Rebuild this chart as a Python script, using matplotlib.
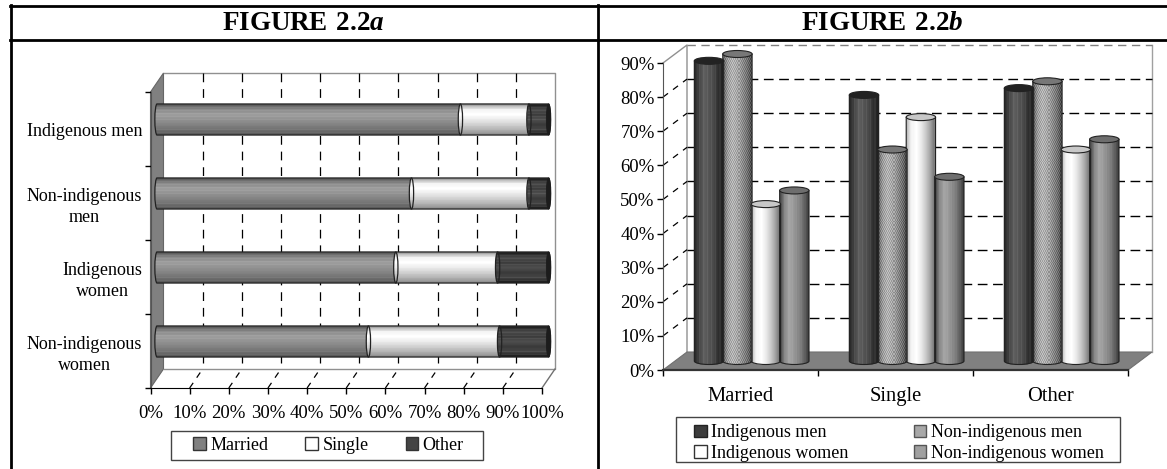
import matplotlib
matplotlib.use('Agg')
import matplotlib.pyplot as plt
from matplotlib.patches import PathPatch, Polygon, Patch, Ellipse, Rectangle
from matplotlib.path import Path
from matplotlib.lines import Line2D
import numpy as np

plt.rcParams['font.family'] = ['Liberation Serif', 'DejaVu Serif']
plt.rcParams['mathtext.fontset'] = 'custom'
plt.rcParams['mathtext.bf'] = 'Liberation Serif:bold'
plt.rcParams['mathtext.bfit'] = 'Liberation Serif:bold:italic'

W = 1167
H = 469

# figure a
groups_a = ['Indigenous men', 'Non-indigenous\nmen', 'Indigenous\nwomen', 'Non-indigenous\nwomen']
married = [77.5, 65, 61, 54]
single = [17.5, 30, 26, 33.5]
other = [5, 5, 13, 12.5]
ticks_a = [0, 10, 20, 30, 40, 50, 60, 70, 80, 90, 100]

# figure b
cats_b = ['Married', 'Single', 'Other']
ind_men = [88, 78, 80]
non_ind_men = [90, 62, 82]
ind_women = [46, 71.5, 62]
non_ind_women = [50, 54, 65]
ticks_b = [0, 10, 20, 30, 40, 50, 60, 70, 80, 90]

fig = plt.figure(figsize=(W / 100, H / 100), dpi=100)


def px_axes(x0, y0, x1, y1):
    return fig.add_axes([x0 / W, 1 - y1 / H, (x1 - x0) / W, (y1 - y0) / H])


def frame_line(x0, y0, x1, y1, lw=2.0):
    fig.add_artist(Line2D([x0 / W, x1 / W], [1 - y0 / H, 1 - y1 / H], color='black', lw=lw))


def legend_box(x0, y0, x1, y1):
    fig.add_artist(Rectangle((x0 / W, 1 - y1 / H), (x1 - x0) / W, (y1 - y0) / H, fc='white', ec='#444444',
                             lw=1.0, transform=fig.transFigure, zorder=3))


def shade(stops, n=40, stripes=0.0):
    pos = np.linspace(0, 1, len(stops))
    t = np.linspace(0, 1, n)
    vals = np.interp(t, pos, stops)
    if stripes:
        vals = vals + stripes * np.where(np.arange(n) % 4 == 0, 1, -0.4)
    return np.clip(vals, 0, 1)


# clip a gradient mesh to the cylinder outline, it has to stick out of the axes box
def paint(ax, xs, ys, img, outline, z=4):
    mesh = ax.pcolormesh(xs, ys, img, cmap='gray', vmin=0, vmax=1, zorder=z, shading='flat')
    mesh.set_clip_path(outline)
    mesh.set_clip_box(None)


def cyl_h(ax, left, width, yc, hh, rx, stops, stripes=0.0, end_face=False):
    right = left + width
    k = 0.5523
    verts = [(left, yc - hh), (right, yc - hh),
             (right + k * rx, yc - hh), (right + rx, yc - k * hh), (right + rx, yc),
             (right + rx, yc + k * hh), (right + k * rx, yc + hh), (right, yc + hh),
             (left, yc + hh),
             (left - k * rx, yc + hh), (left - rx, yc + k * hh), (left - rx, yc),
             (left - rx, yc - k * hh), (left - k * rx, yc - hh), (left, yc - hh),
             (left, yc - hh)]
    codes = [Path.MOVETO, Path.LINETO, Path.CURVE4, Path.CURVE4, Path.CURVE4, Path.CURVE4, Path.CURVE4,
             Path.CURVE4, Path.LINETO, Path.CURVE4, Path.CURVE4, Path.CURVE4, Path.CURVE4, Path.CURVE4,
             Path.CURVE4, Path.CLOSEPOLY]
    outline = PathPatch(Path(verts, codes), fc='none', ec='#222222', lw=0.9, zorder=5, clip_on=False)
    ax.add_patch(outline)
    img = shade(stops, stripes=stripes).reshape(-1, 1)
    paint(ax, [left - rx, right + rx], np.linspace(yc - hh, yc + hh, img.shape[0] + 1), img, outline)
    if end_face:
        ax.add_patch(Ellipse((right, yc), 2 * rx, 2 * hh, fc='#1c1c1c', ec='#1c1c1c', lw=0.6, zorder=6, clip_on=False))


def cyl_v(ax, xc, hw, base, top, ry, stops, top_color, stripes=0.0, dots=0.0):
    k = 0.5523
    verts = [(xc - hw, top), (xc - hw, base),
             (xc - hw, base - k * ry), (xc - k * hw, base - ry), (xc, base - ry),
             (xc + k * hw, base - ry), (xc + hw, base - k * ry), (xc + hw, base),
             (xc + hw, top), (xc - hw, top)]
    codes = [Path.MOVETO, Path.LINETO, Path.CURVE4, Path.CURVE4, Path.CURVE4, Path.CURVE4, Path.CURVE4,
             Path.CURVE4, Path.LINETO, Path.CLOSEPOLY]
    body = PathPatch(Path(verts, codes), fc='none', ec='#222222', lw=0.8, zorder=5, clip_on=False)
    ax.add_patch(body)
    column = shade(stops, n=28, stripes=stripes)
    rows = max(2, int((top - base + 2 * ry) * 3.41 / 2))
    img = np.tile(column, (rows, 1))
    if dots:
        r, c = np.indices(img.shape)
        img = np.clip(img + dots * np.where((r + c) % 2 == 0, 1, -1), 0, 1)
    paint(ax, np.linspace(xc - hw, xc + hw, img.shape[1] + 1), np.linspace(base - ry, top, rows + 1), img, body)
    ax.add_patch(Ellipse((xc, top), 2 * hw, 2 * ry, fc=top_color, ec='#222222', lw=0.8, zorder=6, clip_on=False))


# ---------- figure a ----------
ax = px_axes(150.5, 92, 542, 388)
ax.set_xlim(0, 100)
ax.set_ylim(4, 0)
dx = 13 / 391.5 * 100
dy = 19 / 296 * 4

ax.add_patch(Polygon([(0, 0), (dx, -dy), (dx, 4 - dy), (0, 4)], fc='#808080', ec='#666666', lw=0.8,
                     clip_on=False, zorder=1))
ax.plot([dx, 100 + dx, 100 + dx, dx], [-dy, -dy, 4 - dy, 4 - dy], color='#909090', lw=1.0, clip_on=False, zorder=1)
ax.plot([100, 100 + dx], [4, 4 - dy], color='#707070', lw=1.0, clip_on=False, zorder=1)
for t in ticks_a[1:-1]:
    ax.plot([t + dx, t + dx], [-dy, 4 - dy], color='black', lw=0.9, dashes=(7, 5.5), clip_on=False, zorder=2)
    ax.plot([t, t + dx], [4, 4 - dy], color='black', lw=0.9, dashes=(5, 5), clip_on=False, zorder=2)

ypos = np.arange(len(groups_a)) + 0.5
for i, yc in enumerate(ypos):
    yb = yc - dy / 2
    x0 = dx / 2
    cyl_h(ax, x0, married[i], yb, 0.21, 0.55, [0.35, 0.55, 0.62, 0.58, 0.52, 0.45, 0.35], stripes=0.02)
    cyl_h(ax, x0 + married[i], single[i], yb, 0.21, 0.55, [0.6, 0.95, 1.0, 0.92, 0.82, 0.7, 0.55])
    cyl_h(ax, x0 + married[i] + single[i], other[i], yb, 0.21, 0.55, [0.12, 0.3, 0.25, 0.32, 0.24, 0.28, 0.12],
          stripes=0.03, end_face=True)

ax.set_xticks(ticks_a)
ax.set_xticklabels([f'{t}%' for t in ticks_a], fontsize=13.5)
ax.set_yticks(ypos)
ax.set_yticklabels(groups_a, fontsize=13, multialignment='center', linespacing=1.3)
ax.set_yticks(np.arange(5), minor=True)
ax.tick_params(axis='y', which='major', length=0, pad=6)
ax.tick_params(axis='y', which='minor', length=4, width=1)
ax.tick_params(axis='x', length=4, width=1, pad=8)
for s in ['top', 'right']:
    ax.spines[s].set_visible(False)
ax.spines['left'].set_color('#555555')
ax.patch.set_alpha(0)

legend_box(171, 431, 483, 460)
leg = fig.legend(handles=[Patch(fc='#808080', ec='#333333', label='Married'),
                          Patch(fc='white', ec='#333333', label='Single'),
                          Patch(fc='#444444', ec='#333333', label='Other')],
                 loc='center', bbox_to_anchor=(328.5 / W, 1 - 445.5 / H), ncol=3, fontsize=13, frameon=False,
                 handlelength=0.7, handleheight=0.7, handletextpad=0.25,
                 columnspacing=2.05, borderpad=0, borderaxespad=0)
leg.set_zorder(4)

# ---------- figure b ----------
ax2 = px_axes(663, 63, 1128, 370)
ax2.set_xlim(0, 3)
ax2.set_ylim(0, 90)
dx2 = 24 / 465 * 3
dy2 = 18 / 307 * 90

ax2.add_patch(Polygon([(0, 0), (dx2, dy2), (3 + dx2, dy2), (3, 0)], fc='#808080', ec='#707070', lw=0.8,
                      clip_on=False, zorder=2))
ax2.plot([0, dx2, dx2], [90, 90 + dy2, dy2], color='#909090', lw=1.0, clip_on=False, zorder=1)
ax2.plot([3 + dx2, 3 + dx2], [dy2, 90 + dy2], color='#a0a0a0', lw=1.0, clip_on=False, zorder=1)
ax2.plot([dx2, 3 + dx2], [90 + dy2, 90 + dy2], color='#808080', lw=1.0, dashes=(6, 4), clip_on=False, zorder=1)
for t in ticks_b[1:-1]:
    ax2.plot([dx2, 3 + dx2], [t + dy2, t + dy2], color='black', lw=1.0, dashes=(7, 4), clip_on=False, zorder=1)
for t in ticks_b[1:-1]:
    ax2.plot([0, dx2], [t, t + dy2], color='black', lw=0.9, dashes=(5, 5), clip_on=False, zorder=1)

series_b = [ind_men, non_ind_men, ind_women, non_ind_women]
stops_b = [[0.15, 0.3, 0.38, 0.34, 0.3, 0.2, 0.12],
           [0.4, 0.62, 0.7, 0.66, 0.55, 0.45, 0.3],
           [0.7, 0.95, 1.0, 0.92, 0.8, 0.65, 0.45],
           [0.3, 0.55, 0.65, 0.6, 0.52, 0.4, 0.25]]
tops_b = ['#222222', '#777777', '#c8c8c8', '#6e6e6e']
stripes_b = [0.03, 0.0, 0.0, 0.015]
dots_b = [0.0, 0.07, 0.0, 0.0]
group_left = 0.205
bar_w = 0.1835
hw = bar_w / 2 + 0.003
ry = 3.5 / 307 * 90
base = dy2 / 2
for s, vals in enumerate(series_b):
    for c, v in enumerate(vals):
        xc = c + group_left + (s + 0.5) * bar_w
        cyl_v(ax2, xc, hw, base, base + v, ry, stops_b[s], tops_b[s], stripes=stripes_b[s], dots=dots_b[s])

ax2.set_xticks([0, 1, 2, 3])
ax2.set_xticklabels([])
ax2.set_xticks([0.5, 1.5, 2.5], minor=True)
ax2.set_xticklabels(cats_b, minor=True, fontsize=14.8)
ax2.tick_params(axis='x', which='major', length=4, width=1)
ax2.tick_params(axis='x', which='minor', length=0, pad=12)
ax2.set_yticks(ticks_b)
ax2.set_yticklabels([f'{t}%' for t in ticks_b], fontsize=13.5)
ax2.tick_params(axis='y', length=4, width=1, pad=2)
for s in ['top', 'right']:
    ax2.spines[s].set_visible(False)
ax2.spines['left'].set_color('#555555')
ax2.spines['bottom'].set_color('#333333')
ax2.spines['bottom'].set_linewidth(1.6)
ax2.patch.set_alpha(0)

legend_box(676, 417, 1120, 462)
leg2 = fig.legend(handles=[Patch(fc='#3c3c3c', ec='#222222', label='Indigenous men'),
                           Patch(fc='white', ec='#333333', label='Indigenous women'),
                           Patch(fc='#a8a8a8', ec='#555555', label='Non-indigenous men'),
                           Patch(fc='#a0a0a0', ec='#555555', label='Non-indigenous women')],
                  loc='center', bbox_to_anchor=(899 / W, 1 - 443 / H), ncol=2, fontsize=13, frameon=False,
                  handlelength=0.7, handleheight=0.7, handletextpad=0.25,
                  columnspacing=3.6, labelspacing=0.2, borderpad=0, borderaxespad=0)
leg2.set_zorder(4)

# table around the two charts
fig.text(303.5 / W, 1 - 24 / H, r'$\mathbf{FIGURE\ 2.2}\mathbfit{a}$', ha='center', va='center', fontsize=19.5)
fig.text(882.5 / W, 1 - 24 / H, r'$\mathbf{FIGURE\ 2.2}\mathbfit{b}$', ha='center', va='center', fontsize=19.5)
frame_line(10, 6.5, 1167, 6.5)
frame_line(10, 40.5, 1167, 40.5)
frame_line(10.5, 5.5, 10.5, 469)
frame_line(597.5, 5.5, 597.5, 469)

plt.savefig('out.png', dpi=100)
